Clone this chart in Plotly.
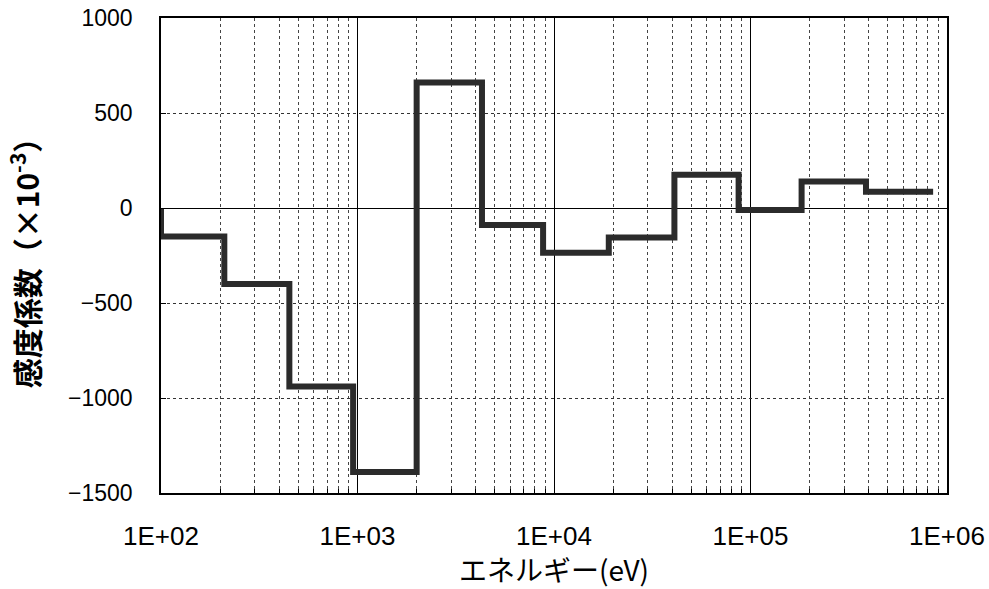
import plotly.graph_objects as go

# Group boundaries (eV) and sensitivity values (x10^-3) per group
edges = [100, 210, 450, 950, 2000, 4300, 8800, 19000, 41000, 87000, 182000, 387000, 850000]
values = [-150, -400, -940, -1390, 660, -90, -235, -155, 175, -10, 140, 85]

x_tick_vals = [1e2, 1e3, 1e4, 1e5, 1e6]
x_tick_text = ["1E+02", "1E+03", "1E+04", "1E+05", "1E+06"]
y_tick_vals = [-1500, -1000, -500, 0, 500, 1000]
minor_vals = [m * 10 ** d for d in range(2, 6) for m in range(2, 10)]

xs = [edges[0]] + edges
ys = [0] + values + [values[-1]]

fig = go.Figure()
fig.add_trace(go.Scatter(
    x=xs, y=ys, mode="lines", line=dict(shape="hv", color="#2b2b2b", width=6),
    showlegend=False, hoverinfo="skip"))

fig.update_layout(
    width=989, height=589,
    margin=dict(l=161, r=42, t=18, b=96),
    paper_bgcolor="white", plot_bgcolor="white",
    font=dict(family="Liberation Sans, Noto Sans CJK JP", color="black"),
)
fig.update_xaxes(
    type="log", range=[2, 6], automargin=False,
    tickvals=x_tick_vals, ticktext=x_tick_text,
    tickfont=dict(size=26, family="Liberation Sans"),
    ticks="inside", ticklen=4, tickcolor="black",
    ticklabelstandoff=19,
    showgrid=True, gridcolor="black", gridwidth=1,
    minor=dict(tickvals=minor_vals, showgrid=True, gridcolor="#444", griddash="dot", gridwidth=1,
               ticks="inside", ticklen=4, tickcolor="black"),
    showline=True, linecolor="black", linewidth=1.5, mirror=True,
    title=dict(text="エネルギー(eV)", font=dict(size=28, family="Noto Sans CJK JP"), standoff=4),
)
fig.update_yaxes(
    range=[-1500, 1000], tickvals=y_tick_vals, automargin=False,
    tickfont=dict(size=23, family="Liberation Sans"),
    ticks="inside", ticklen=5, tickcolor="black",
    ticklabelstandoff=22,
    showgrid=True, gridcolor="#333", griddash="dot", gridwidth=1,
    zeroline=True, zerolinecolor="black", zerolinewidth=1,
    showline=True, linecolor="black", linewidth=1.5, mirror=True,
    title=dict(text="<b>感度係数（×10<sup>-3</sup>）</b>", font=dict(size=30, family="Noto Sans CJK JP"), standoff=20),
)

fig.write_html("out.html", config={"displayModeBar": False},
               post_script="document.body.style.margin='0';document.body.style.overflow='hidden';")
